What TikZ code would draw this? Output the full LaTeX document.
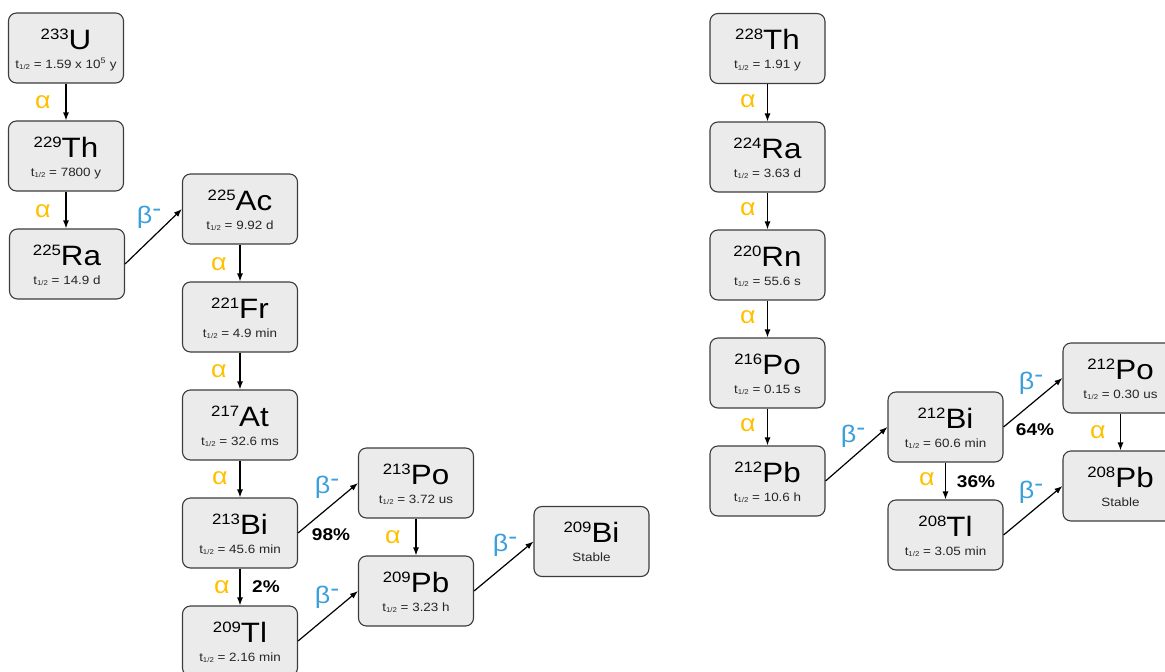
\documentclass[tikz,border=0pt]{standalone}
\usepackage{fontspec}
\setmainfont{Liberation Sans}[FakeStretch=1.12]
\usetikzlibrary{arrows.meta,calc}
\definecolor{agold}{HTML}{FFC000}
\definecolor{bblue}{HTML}{3A9FDB}
\definecolor{boxfill}{HTML}{EBEBEB}
\definecolor{boxdraw}{HTML}{3C3C3C}
\newcommand{\Nuc}[6]{%
  \node[nbox] (#1) at (#2,#3) {};
  \node[mtext] (#1-m) at (#2,#3+1) {\raisebox{10pt}{\fontsize{15}{15}\selectfont #4}#5};
  \node[stext] (#1-s) at (#2,#3+20) {#6};
}
\newcommand{\Thalf}[1]{t\raisebox{-1.8pt}{\fontsize{7}{7}\selectfont 1/2} = #1}
\begin{document}
\begin{tikzpicture}[x=1pt,y=-1pt,
  nbox/.style={draw=boxdraw, fill=boxfill, line width=1.1pt, rounded corners=8pt,
    minimum width=115pt, minimum height=70pt, inner sep=0pt},
  mtext/.style={anchor=base, inner sep=0pt, font=\fontsize{28}{28}\selectfont},
  stext/.style={anchor=base, inner sep=0pt, text=black!85, font=\fontsize{12}{12}\selectfont},
  arr/.style={draw=black, line width=1.2pt, -{Latex[length=8pt,width=6pt]}},
  alab/.style={inner sep=0pt, text=agold, font=\fontsize{24}{24}\selectfont},
  blab/.style={inner sep=0pt, text=bblue, font=\fontsize{24}{24}\selectfont},
  plab/.style={inner sep=0pt, font=\bfseries\fontsize{17}{17}\selectfont}]
\useasboundingbox (0,0) rectangle (1165,672);
\clip (0,0) rectangle (1165,672);
% left chain
\Nuc{U233}{66}{48}{233}{U}{\Thalf{1.59 x 10\textsuperscript{5} y}}
\Nuc{Th229}{66}{156}{229}{Th}{\Thalf{7800 y}}
\Nuc{Ra225}{67}{264}{225}{Ra}{\Thalf{14.9 d}}
\Nuc{Ac225}{240}{209}{225}{Ac}{\Thalf{9.92 d}}
\Nuc{Fr221}{240}{317}{221}{Fr}{\Thalf{4.9 min}}
\Nuc{At217}{240}{425}{217}{At}{\Thalf{32.6 ms}}
\Nuc{Bi213}{240}{533}{213}{Bi}{\Thalf{45.6 min}}
\Nuc{Tl209}{240}{641}{209}{Tl}{\Thalf{2.16 min}}
\Nuc{Po213}{416}{483}{213}{Po}{\Thalf{3.72 us}}
\Nuc{Pb209}{416}{591}{209}{Pb}{\Thalf{3.23 h}}
\Nuc{Bi209}{591.5}{541.5}{209}{Bi}{Stable}
% right chain
\Nuc{Th228}{767.5}{48.5}{228}{Th}{\Thalf{1.91 y}}
\Nuc{Ra224}{767.5}{157}{224}{Ra}{\Thalf{3.63 d}}
\Nuc{Rn220}{767.5}{265}{220}{Rn}{\Thalf{55.6 s}}
\Nuc{Po216}{767.5}{373}{216}{Po}{\Thalf{0.15 s}}
\Nuc{Pb212}{767.5}{481}{212}{Pb}{\Thalf{10.6 h}}
\Nuc{Bi212}{945.5}{427}{212}{Bi}{\Thalf{60.6 min}}
\Nuc{Tl208}{945.5}{535}{208}{Tl}{\Thalf{3.05 min}}
\Nuc{Po212}{1120.5}{378}{212}{Po}{\Thalf{0.30 us}}
\Nuc{Pb208}{1120.5}{486}{208}{Pb}{Stable}
% arrows left
\draw[arr] (U233.south) -- (Th229.north);
\draw[arr] (Th229.south) -- (Ra225.north -| Th229.south);
\draw[arr] (Ra225.east) -- (Ac225.west);
\draw[arr] (Ac225.south) -- (Fr221.north);
\draw[arr] (Fr221.south) -- (At217.north);
\draw[arr] (At217.south) -- (Bi213.north);
\draw[arr] (Bi213.south) -- (Tl209.north);
\draw[arr] (Bi213.east) -- (Po213.west);
\draw[arr] (Tl209.east) -- (Pb209.west);
\draw[arr] (Po213.south) -- (Pb209.north);
\draw[arr] (Pb209.east) -- (Bi209.west);
% arrows right
\draw[arr] (Th228.south) -- (Ra224.north);
\draw[arr] (Ra224.south) -- (Rn220.north);
\draw[arr] (Rn220.south) -- (Po216.north);
\draw[arr] (Po216.south) -- (Pb212.north);
\draw[arr] (Pb212.east) -- (Bi212.west);
\draw[arr] (Bi212.east) -- (Po212.west);
\draw[arr] (Bi212.south) -- (Tl208.north);
\draw[arr] (Tl208.east) -- (Pb208.west);
\draw[arr] (Po212.south) -- (Pb208.north);
% labels left
\node[alab] (a1) at (43,102) {α};
\node[alab] (a2) at (43,211) {α};
\node[blab] (b1) at (149,217) {β\raisebox{0.3em}{-}};
\node[alab] (a3) at (219,264) {α};
\node[alab] (a4) at (219,371) {α};
\node[alab] (a5) at (220,478) {α};
\node[alab] (a6) at (222,587) {α};
\node[blab] (b2) at (327,487) {β\raisebox{0.3em}{-}};
\node[blab] (b3) at (327,597) {β\raisebox{0.3em}{-}};
\node[alab] (a7) at (393,537) {α};
\node[blab] (b4) at (505,545) {β\raisebox{0.3em}{-}};
\node[plab] (p1) at (331,535) {98\%};
\node[plab] (p2) at (266,587) {2\%};
% labels right
\node[alab] (a8) at (748,101) {α};
\node[alab] (a9) at (748,209) {α};
\node[alab] (a10) at (748,317) {α};
\node[alab] (a11) at (748,425) {α};
\node[blab] (b5) at (853,436) {β\raisebox{0.3em}{-}};
\node[blab] (b6) at (1031,383) {β\raisebox{0.3em}{-}};
\node[blab] (b7) at (1031,492) {β\raisebox{0.3em}{-}};
\node[alab] (a12) at (927,479) {α};
\node[alab] (a13) at (1098,432) {α};
\node[plab] (p3) at (1035,430) {64\%};
\node[plab] (p4) at (976,482) {36\%};
\end{tikzpicture}
\end{document}
